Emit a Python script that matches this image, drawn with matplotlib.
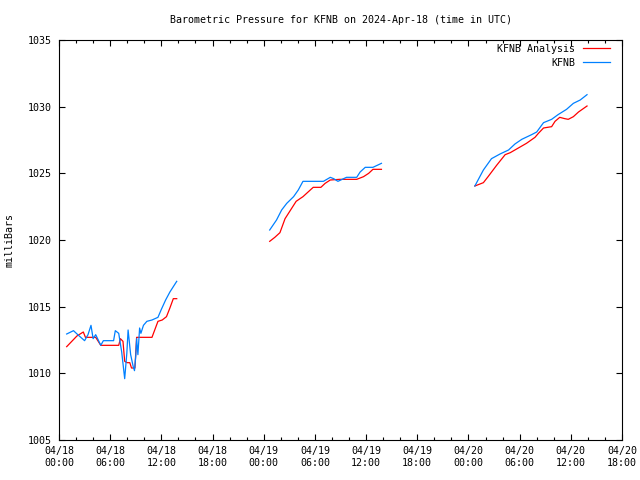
import numpy as np
import matplotlib
matplotlib.use("Agg")
import matplotlib.pyplot as plt
from matplotlib.ticker import MultipleLocator

# hours since 2024-04-18 00:00 UTC, pressure in mb
# KFNB Analysis (red)
ana_h1 = [0.9, 1.5, 2.1, 2.85, 3.1, 4.3, 4.9, 7.0, 7.2, 7.5, 7.7, 8.0, 8.3, 8.5, 8.9, 9.1,
          10.9, 11.6, 12.1, 12.6, 13.0, 13.4, 13.8]
ana_p1 = [1012.0, 1012.4, 1012.8, 1013.1, 1012.7, 1012.7, 1012.1, 1012.1, 1012.6, 1012.4, 1010.9,
          1010.8, 1010.8, 1010.4, 1010.4, 1012.7, 1012.7, 1013.9, 1014.0, 1014.25, 1014.9, 1015.6, 1015.6]
ana_h2 = [24.7, 25.3, 25.9, 26.5, 27.1, 27.8, 28.25, 28.6, 29.8, 30.7, 31.2, 31.8, 32.9, 34.9,
          35.7, 36.3, 36.8, 37.8]
ana_p2 = [1019.9, 1020.2, 1020.55, 1021.6, 1022.2, 1022.9, 1023.1, 1023.25, 1023.95, 1023.95, 1024.25,
          1024.5, 1024.55, 1024.55, 1024.75, 1025.0, 1025.3, 1025.3]
ana_h3 = [48.75, 49.75, 50.3, 51.3, 52.3, 52.9, 53.85, 54.8, 55.8, 56.2, 56.8, 57.75, 58.15, 58.7,
          59.3, 59.7, 60.3, 60.9, 61.9]
ana_p3 = [1024.05, 1024.3, 1024.75, 1025.6, 1026.4, 1026.55, 1026.9, 1027.25, 1027.7, 1028.0, 1028.4,
          1028.5, 1028.9, 1029.2, 1029.1, 1029.05, 1029.25, 1029.6, 1030.05]

# KFNB observations (blue)
obs_h1 = [0.9, 1.7, 2.2, 3.0, 3.4, 3.75, 4.0, 4.3, 4.6, 4.9, 5.2, 6.4, 6.6, 7.0, 7.35, 7.7, 7.95,
          8.1, 8.4, 8.7, 8.85, 9.0, 9.1, 9.25, 9.45, 9.6, 9.9, 10.3, 10.9, 11.6, 12.0, 12.5, 13.0, 13.8]
obs_p1 = [1012.95, 1013.2, 1012.9, 1012.45, 1012.9, 1013.6, 1012.6, 1012.9, 1012.5, 1012.1, 1012.45,
          1012.45, 1013.2, 1013.0, 1011.6, 1009.6, 1011.5, 1013.25, 1011.4, 1010.5, 1010.2, 1011.3,
          1012.6, 1011.4, 1013.4, 1013.0, 1013.6, 1013.9, 1014.0, 1014.2, 1014.8, 1015.5, 1016.1, 1016.9]
obs_h2 = [24.7, 25.5, 26.1, 26.7, 27.5, 28.05, 28.6, 31.0, 31.8, 32.2, 32.7, 33.7, 34.9, 35.3,
          35.9, 36.8, 37.8]
obs_p2 = [1020.75, 1021.5, 1022.25, 1022.75, 1023.25, 1023.75, 1024.4, 1024.4, 1024.7, 1024.6,
          1024.4, 1024.7, 1024.7, 1025.1, 1025.45, 1025.45, 1025.75]
obs_h3 = [48.75, 49.75, 50.7, 51.7, 52.7, 53.45, 54.25, 55.4, 56.0, 56.8, 57.75, 58.5, 59.5, 60.3,
          61.1, 61.9]
obs_p3 = [1024.05, 1025.25, 1026.1, 1026.45, 1026.75, 1027.2, 1027.55, 1027.9, 1028.1, 1028.8,
          1029.05, 1029.4, 1029.8, 1030.25, 1030.5, 1030.9]

tick_hours = [0, 6, 12, 18, 24, 30, 36, 42, 48, 54, 60, 66]
tick_labels = ["04/18\n00:00", "04/18\n06:00", "04/18\n12:00", "04/18\n18:00",
               "04/19\n00:00", "04/19\n06:00", "04/19\n12:00", "04/19\n18:00",
               "04/20\n00:00", "04/20\n06:00", "04/20\n12:00", "04/20\n18:00"]

plt.rcParams['font.family'] = ['DejaVu Sans Mono']
plt.rcParams['font.size'] = 7.2
plt.rcParams['axes.titlesize'] = 7.2

fig = plt.figure(figsize=(6.4, 4.8), dpi=100)
ax = fig.add_axes([59 / 640, 40 / 480, 563 / 640, 400 / 480])

red = '#ff0000'
blue = '#0080ff'
for i, (h, p) in enumerate([(ana_h1, ana_p1), (ana_h2, ana_p2), (ana_h3, ana_p3)]):
    ax.plot(h, p, color=red, lw=0.9, label="KFNB Analysis" if i == 0 else None)
for i, (h, p) in enumerate([(obs_h1, obs_p1), (obs_h2, obs_p2), (obs_h3, obs_p3)]):
    ax.plot(h, p, color=blue, lw=0.9, label="KFNB" if i == 0 else None)

ax.set_xlim(0, 66)
ax.set_ylim(1005, 1035)
ax.set_xticks(tick_hours)
ax.set_xticklabels(tick_labels, linespacing=1.3)
ax.xaxis.set_minor_locator(MultipleLocator(2))
ax.set_yticks(np.arange(1005, 1036, 5))
ax.tick_params(which='both', direction='in', top=True, right=True, width=0.8)
ax.tick_params(which='major', length=4, pad=4)
ax.tick_params(which='minor', length=2.5)
ax.tick_params(axis='y', pad=5)
for s in ax.spines.values():
    s.set_linewidth(0.8)

ax.set_ylabel("milliBars", labelpad=10)
ax.set_title("Barometric Pressure for KFNB on 2024-Apr-18 (time in UTC)", pad=12)

ax.legend(loc='upper right', bbox_to_anchor=(0.986, 1.0), borderaxespad=0, frameon=False,
          markerfirst=False, handlelength=2.7, labelspacing=0.4, handletextpad=0.8)

fig.savefig("out.png", dpi=100)
